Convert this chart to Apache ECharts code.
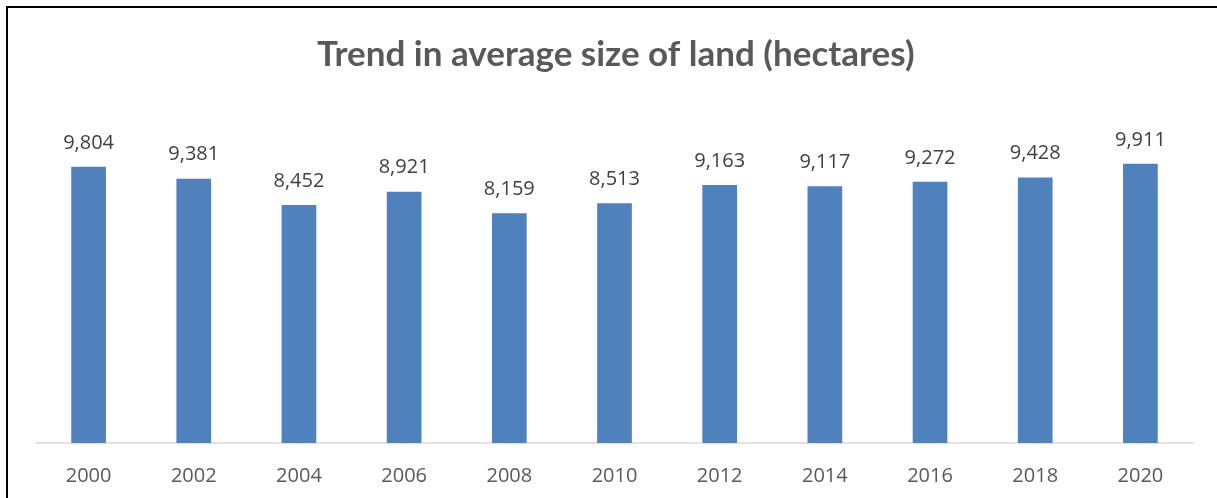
<!DOCTYPE html>
<html>
<head>
<meta charset="utf-8">
<script src="https://cdn.jsdelivr.net/npm/echarts@6/dist/echarts.min.js"></script>
<style>
  html, body { margin: 0; padding: 0; background: #fff; }
  #chart { width: 1217px; height: 498px; }
</style>
</head>
<body>
<div id="chart"></div>
<script>
// Average land size by survey year, in hectares
const years = ['2000', '2002', '2004', '2006', '2008', '2010', '2012', '2014', '2016', '2018', '2020'];
const avgSize = [9804, 9381, 8452, 8921, 8159, 8513, 9163, 9117, 9272, 9428, 9911];
const titleText = 'Trend in average size of land (hectares)';

const chart = echarts.init(document.getElementById('chart'), null, { renderer: 'canvas' });

chart.setOption({
  animation: false,
  backgroundColor: '#ffffff',
  title: {
    text: titleText,
    left: 312,
    top: 32,
    textStyle: {
      fontFamily: 'Lato',
      fontWeight: 'bold',
      fontSize: 35,
      color: '#595959'
    }
  },
  graphic: [
    {
      type: 'rect',
      shape: { x: 7, y: 7, width: 1230, height: 520 },
      style: { fill: 'none', stroke: '#000000', lineWidth: 2 },
      silent: true
    }
  ],
  grid: { left: 36, right: 24, top: 105, bottom: 55 },
  xAxis: {
    type: 'category',
    data: years,
    axisLine: { show: true, lineStyle: { color: '#d9d9d9', width: 1.5 } },
    axisTick: { show: false },
    axisLabel: {
      margin: 23,
      fontFamily: 'Open Sans',
      fontSize: 20,
      color: '#595959'
    }
  },
  yAxis: {
    type: 'value',
    min: 0,
    max: 12000,
    show: false,
    splitLine: { show: false }
  },
  series: [
    {
      type: 'bar',
      data: avgSize,
      barWidth: '33%',
      itemStyle: { color: '#4f81bd' },
      label: {
        show: true,
        position: 'top',
        distance: 14,
        fontFamily: 'Open Sans',
        fontSize: 20,
        color: '#404040',
        formatter: p => p.value.toLocaleString('en-US')
      }
    }
  ]
});
</script>
</body>
</html>
